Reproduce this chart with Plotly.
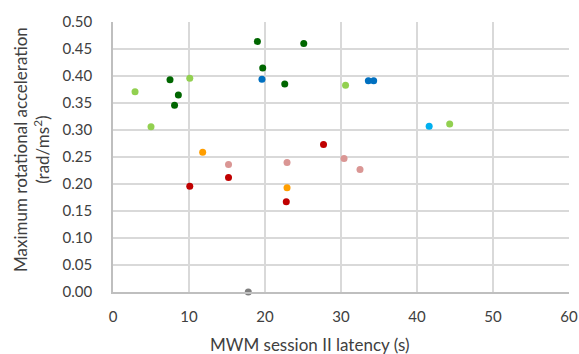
import plotly.graph_objects as go

# Data (x: MWM session II latency (s), y: max rotational acceleration)
light_green_x = [2.9, 5.0, 10.1, 30.6, 44.3]
light_green_y = [0.371, 0.306, 0.396, 0.383, 0.311]
dark_green_x = [7.5, 8.1, 8.6, 19.0, 19.7, 22.6, 25.1]
dark_green_y = [0.393, 0.346, 0.365, 0.464, 0.415, 0.385, 0.460]
blue_x = [19.6, 33.6, 34.3]
blue_y = [0.394, 0.391, 0.391]
cyan_x = [41.6]
cyan_y = [0.307]
orange_x = [11.8, 22.9]
orange_y = [0.259, 0.193]
pink_x = [15.2, 22.9, 30.4, 32.5]
pink_y = [0.236, 0.240, 0.247, 0.227]
red_x = [10.1, 15.2, 22.8, 27.7]
red_y = [0.196, 0.212, 0.167, 0.273]
gray_x = [17.8]
gray_y = [0.0]

x_title = "MWM session II latency (s)"
y_title = "Maximum rotational acceleration<br>(rad/ms<sup>2</sup>)"

series = [
    (light_green_x, light_green_y, "#92D050"),
    (dark_green_x, dark_green_y, "#006600"),
    (blue_x, blue_y, "#0070C0"),
    (cyan_x, cyan_y, "#00B0F0"),
    (orange_x, orange_y, "#FF9E00"),
    (pink_x, pink_y, "#DA9694"),
    (red_x, red_y, "#C00000"),
    (gray_x, gray_y, "#7F7F7F"),
]

fig = go.Figure()
for xs, ys, c in series:
    fig.add_trace(go.Scatter(x=xs, y=ys, mode="markers",
                             marker=dict(color=c, size=7, line=dict(width=0)),
                             showlegend=False, cliponaxis=False))

font = "Lato, Carlito, 'Liberation Sans', sans-serif"
L, R, T, B = 113, 10, 22, 62
W, H = 579, 354
pw, ph = W - L - R, H - T - B

fig.update_layout(
    width=W, height=H,
    margin=dict(l=L, r=R, t=T, b=B, autoexpand=False),
    paper_bgcolor="white", plot_bgcolor="white",
    font=dict(family=font, size=15, color="#404040"),
    xaxis=dict(range=[0, 60], dtick=10, showgrid=True, gridcolor="#D9D9D9", gridwidth=1.5,
               showline=True, linecolor="#BFBFBF", linewidth=1.5, zeroline=False,
               ticks="", ticklabelstandoff=10, automargin=False, ticklabeloverflow="allow",
               tickfont=dict(size=15, color="#404040")),
    yaxis=dict(range=[0, 0.5], dtick=0.05, tickformat=".2f", showgrid=True, gridcolor="#D9D9D9", gridwidth=1.5,
               showline=True, linecolor="#BFBFBF", linewidth=1.5, zeroline=False,
               ticks="", ticklabelstandoff=16, automargin=False, ticklabeloverflow="allow",
               tickfont=dict(size=15, color="#404040")),
    annotations=[
        dict(text=x_title, xref="paper", yref="paper",
             x=(309 - L) / pw, y=(H - B - 344) / ph, xanchor="center", yanchor="middle",
             showarrow=False, font=dict(size=17, color="#404040")),
        dict(text=y_title, xref="paper", yref="paper", textangle=-90,
             x=(31 - L) / pw, y=(H - B - 150) / ph, xanchor="center", yanchor="middle",
             showarrow=False, font=dict(size=17, color="#404040")),
    ],
)
fig.write_html("out.html",
               config={"displayModeBar": False},
               post_script="document.body.style.margin='0';document.body.style.overflow='hidden';")
